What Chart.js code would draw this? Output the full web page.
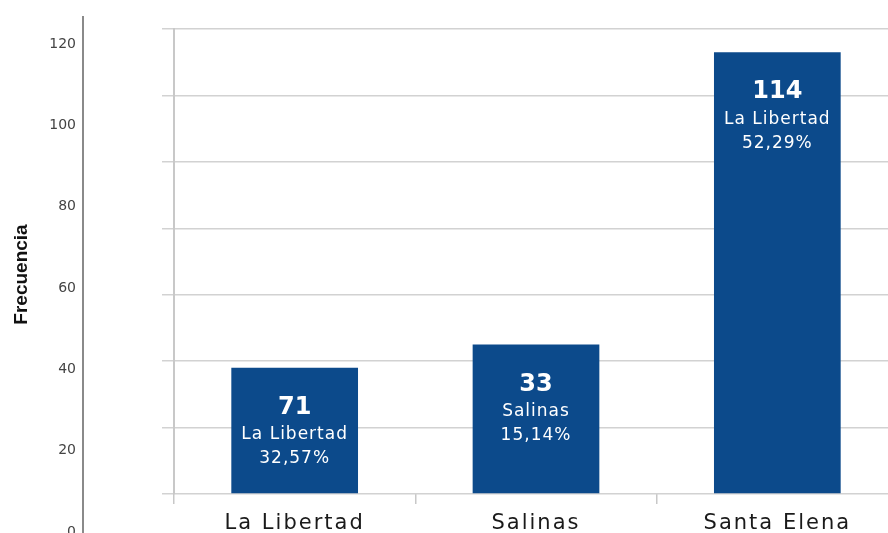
<!DOCTYPE html>
<html>
<head>
<meta charset="utf-8">
<script src="https://cdn.jsdelivr.net/npm/chart.js@4.4.1/dist/chart.umd.min.js"></script>
<style>
  html, body { margin: 0; padding: 0; background: #fff; overflow: hidden; width: 888px; height: 533px; }
  canvas { position: absolute; left: 0; top: 0; }
</style>
</head>
<body>
<canvas id="axisChart" width="888" height="560"></canvas>
<canvas id="barChart" width="898" height="533"></canvas>
<script>
// data
const categories = ['La Libertad', 'Salinas', 'Santa Elena'];
const barValues = [38, 45, 133];          // bar heights on the inner grid (0-140)
const countLabels = ['71', '33', '114'];
const nameLabels = ['La Libertad', 'Salinas', 'La Libertad'];
const pctLabels = ['32,57%', '15,14%', '52,29%'];
const outerTicks = [0, 20, 40, 60, 80, 100, 120];

const SANS = "'Liberation Sans', Arial, sans-serif";
const WIDE = "'DejaVu Sans', sans-serif";

// outer frequency axis
new Chart(document.getElementById('axisChart'), {
    type: 'bar',
    data: { labels: [], datasets: [] },
    options: {
        responsive: false,
        animation: false,
        layout: { padding: { top: 17, bottom: 28 } },
        plugins: { legend: { display: false }, tooltip: { enabled: false } },
        scales: {
            x: { display: false },
            y: {
                min: 0,
                max: 126.7,
                afterFit: function(s) { s.width = 83; },
                afterBuildTicks: function(s) { s.ticks = outerTicks.map(v => ({ value: v })); },
                ticks: { padding: 7, color: '#444', font: { family: WIDE, size: 14 } },
                grid: { display: false, drawTicks: false },
                border: { color: '#8a8a8a', width: 2 },
                title: {
                    display: true,
                    text: 'Frecuencia',
                    color: '#111',
                    padding: { top: 10, bottom: 0 },
                    font: { family: SANS, size: 19, weight: 'bold' }
                }
            }
        }
    }
});

// wider spacing for the category labels
const spacing = {
    id: 'spacing',
    beforeDraw(chart) { chart.ctx.letterSpacing = '2px'; }
};

// text inside the bars
const barText = {
    id: 'barText',
    afterDatasetsDraw(chart) {
        const ctx = chart.ctx;
        chart.getDatasetMeta(0).data.forEach((bar, i) => {
            ctx.save();
            ctx.fillStyle = '#fff';
            ctx.textAlign = 'center';
            ctx.textBaseline = 'middle';
            ctx.letterSpacing = '0px';
            ctx.font = 'bold 24px ' + WIDE;
            ctx.fillText(countLabels[i], bar.x, bar.y + 40);
            ctx.letterSpacing = '1px';
            ctx.font = '17px ' + WIDE;
            ctx.fillText(nameLabels[i], bar.x, bar.y + 67);
            ctx.fillText(pctLabels[i], bar.x, bar.y + 91);
            ctx.restore();
        });
    }
};

new Chart(document.getElementById('barChart'), {
    type: 'bar',
    data: {
        labels: categories,
        datasets: [{
            data: barValues,
            backgroundColor: '#0c4a8b',
            categoryPercentage: 1,
            barPercentage: 0.525
        }]
    },
    options: {
        responsive: false,
        animation: false,
        layout: { padding: { top: 29, left: 0, right: 0, bottom: 0 } },
        plugins: { legend: { display: false }, tooltip: { enabled: false } },
        scales: {
            x: {
                afterFit: function(s) { s.height = 39; },
                ticks: { padding: 7, color: '#1a1a1a', font: { family: WIDE, size: 21 } },
                grid: { drawOnChartArea: false, tickLength: 10, color: '#c8c8c8', lineWidth: 1.5 },
                border: { display: false }
            },
            y: {
                min: 0,
                max: 140,
                afterFit: function(s) { s.width = 174; },
                ticks: { display: false, stepSize: 20 },
                grid: { color: '#d2d2d2', lineWidth: 1.5, tickLength: 12 },
                border: { color: '#c8c8c8', width: 2 }
            }
        }
    },
    plugins: [spacing, barText]
});
</script>
</body>
</html>
